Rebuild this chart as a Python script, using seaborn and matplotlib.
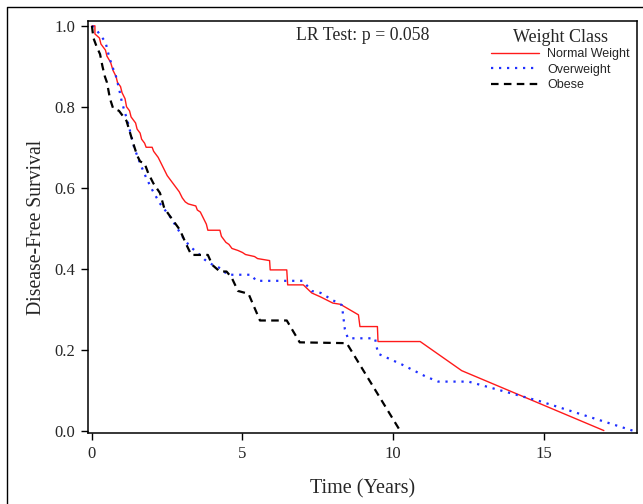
import numpy as np
import seaborn as sns
import matplotlib.pyplot as plt
from matplotlib.lines import Line2D

# Kaplan-Meier style curves (time in years, survival)
normal_t = [0, 0.1, 0.1, 0.25, 0.3, 0.45, 0.5, 0.62, 0.7, 0.8, 0.85, 0.95, 1.0, 1.1, 1.15,
            1.25, 1.3, 1.45, 1.5, 1.6, 1.65, 1.75, 1.8, 2.0, 2.05, 2.2, 2.3, 2.4, 2.5, 2.65,
            2.75, 2.9, 3.0, 3.1, 3.2, 3.45, 3.5, 3.6, 3.7, 3.8, 3.85, 4.25, 4.3, 4.45, 4.55,
            4.65, 4.85, 5.0, 5.1, 5.4, 5.5, 5.9, 5.92, 6.47, 6.5, 7.02, 7.3, 7.6, 8.0, 8.25,
            8.85, 8.9, 9.48, 9.5, 10.9, 12.28, 17.0]
normal_s = [1.0, 1.0, 0.98, 0.97, 0.955, 0.94, 0.925, 0.91, 0.89, 0.875, 0.86, 0.85, 0.835, 0.82, 0.80,
            0.79, 0.775, 0.76, 0.745, 0.735, 0.72, 0.71, 0.70, 0.70, 0.69, 0.675, 0.66, 0.645, 0.63, 0.615,
            0.605, 0.59, 0.575, 0.565, 0.56, 0.555, 0.545, 0.54, 0.525, 0.51, 0.495, 0.495, 0.48, 0.465, 0.46,
            0.45, 0.445, 0.44, 0.435, 0.43, 0.425, 0.42, 0.397, 0.397, 0.36, 0.36, 0.34, 0.33, 0.315, 0.312,
            0.286, 0.257, 0.257, 0.22, 0.22, 0.148, 0.0]

over_t = [0, 0.15, 0.3, 0.45, 0.55, 0.65, 0.8, 0.9, 1.0, 1.1, 1.2, 1.3, 1.4, 1.6, 1.8, 2.0,
          2.25, 2.6, 3.0, 3.25, 3.5, 3.75, 4.0, 4.3, 4.5, 5.3, 5.45, 7.0, 7.3, 7.6, 8.0, 8.3,
          8.4, 8.5, 9.4, 9.5, 10.3, 11.1, 11.5, 12.5, 12.7, 14.9, 17.95]
over_s = [1.0, 0.99, 0.975, 0.96, 0.93, 0.905, 0.875, 0.845, 0.81, 0.785, 0.76, 0.73, 0.70, 0.66, 0.625, 0.595,
          0.562, 0.528, 0.48, 0.455, 0.44, 0.422, 0.41, 0.40, 0.385, 0.385, 0.37, 0.37, 0.345, 0.34, 0.322, 0.31,
          0.25, 0.228, 0.228, 0.19, 0.163, 0.133, 0.121, 0.121, 0.117, 0.072, 0.0]

obese_t = [0, 0.05, 0.15, 0.27, 0.35, 0.43, 0.5, 0.6, 0.7, 0.9, 1.0, 1.15, 1.25, 1.37, 1.5,
           1.6, 1.75, 1.87, 2.04, 2.26, 2.4, 2.59, 2.92, 3.14, 3.3, 3.85, 4.0, 4.25, 4.47,
           4.64, 4.85, 5.2, 5.58, 6.47, 6.9, 8.46, 10.23]
obese_s = [1.0, 0.97, 0.95, 0.93, 0.90, 0.875, 0.86, 0.82, 0.797, 0.79, 0.78, 0.765, 0.74, 0.71, 0.68,
           0.665, 0.66, 0.636, 0.611, 0.587, 0.55, 0.53, 0.496, 0.459, 0.434, 0.434, 0.409, 0.393, 0.393,
           0.378, 0.345, 0.338, 0.272, 0.272, 0.218, 0.216, 0.0]

labels = ['Normal Weight', 'Overweight', 'Obese']
x_ticks = [0, 5, 10, 15]
y_ticks = [0.0, 0.2, 0.4, 0.6, 0.8, 1.0]

sns.set_style('ticks')
plt.rcParams['font.family'] = ['Liberation Serif', 'DejaVu Serif']

fig = plt.figure(figsize=(6.43, 5.04), dpi=100)
ax = fig.add_axes([88 / 643, 1 - 433 / 504, (637 - 88) / 643, (433 - 21) / 504])

sns.lineplot(x=normal_t, y=normal_s, ax=ax, sort=False, estimator=None,
             color='#ff1a1a', linewidth=1.0, linestyle='-')
sns.lineplot(x=over_t, y=over_s, ax=ax, sort=False, estimator=None,
             color='#1f2fff', linewidth=1.6, linestyle=(0, (1, 2.6)))
sns.lineplot(x=obese_t, y=obese_s, ax=ax, sort=False, estimator=None,
             color='black', linewidth=1.6, linestyle=(0, (3.4, 2.4)))

ax.set_xlim(-0.13, 18.1)
ax.set_ylim(-0.006, 1.012)
ax.set_xticks(x_ticks)
ax.set_yticks(y_ticks)
ax.set_yticklabels([f'{v:.1f}' for v in y_ticks])
ax.tick_params(labelsize=12, length=5, width=1, color='black', pad=4)
for s in ax.spines.values():
    s.set_linewidth(1.1)
    s.set_color('black')

ax.set_xlabel('Time (Years)', fontsize=14.5, labelpad=13)
ax.set_ylabel('Disease-Free Survival', fontsize=14.2, labelpad=6)

fig.text(363 / 643, 1 - 35 / 504, 'LR Test: p = 0.058', fontsize=12.8,
         ha='center', va='center')

handles = [Line2D([], [], color='#ff1a1a', lw=1.0),
           Line2D([], [], color='#1f2fff', lw=1.6, linestyle=(0, (1, 2.6))),
           Line2D([], [], color='black', lw=1.6, linestyle=(0, (3.4, 2.4)))]
leg = ax.legend(handles, labels, title='Weight Class', loc='upper right',
                bbox_to_anchor=(1.0, 1.0), frameon=False,
                prop={'family': 'Liberation Sans', 'size': 9},
                handlelength=3.9, handletextpad=0.6, labelspacing=0.28,
                borderaxespad=0.2)
leg.get_title().set_fontsize(13)
leg.get_title().set_family('Liberation Serif')
leg._legend_box.sep = 2

# outer frame (left and top edges)
fig.add_artist(Line2D([7 / 643, 7 / 643, 1.0], [0.0, 1 - 7 / 504, 1 - 7 / 504],
                      transform=fig.transFigure, color='black', lw=1.0))

fig.savefig('out.png', dpi=100, facecolor='white')
